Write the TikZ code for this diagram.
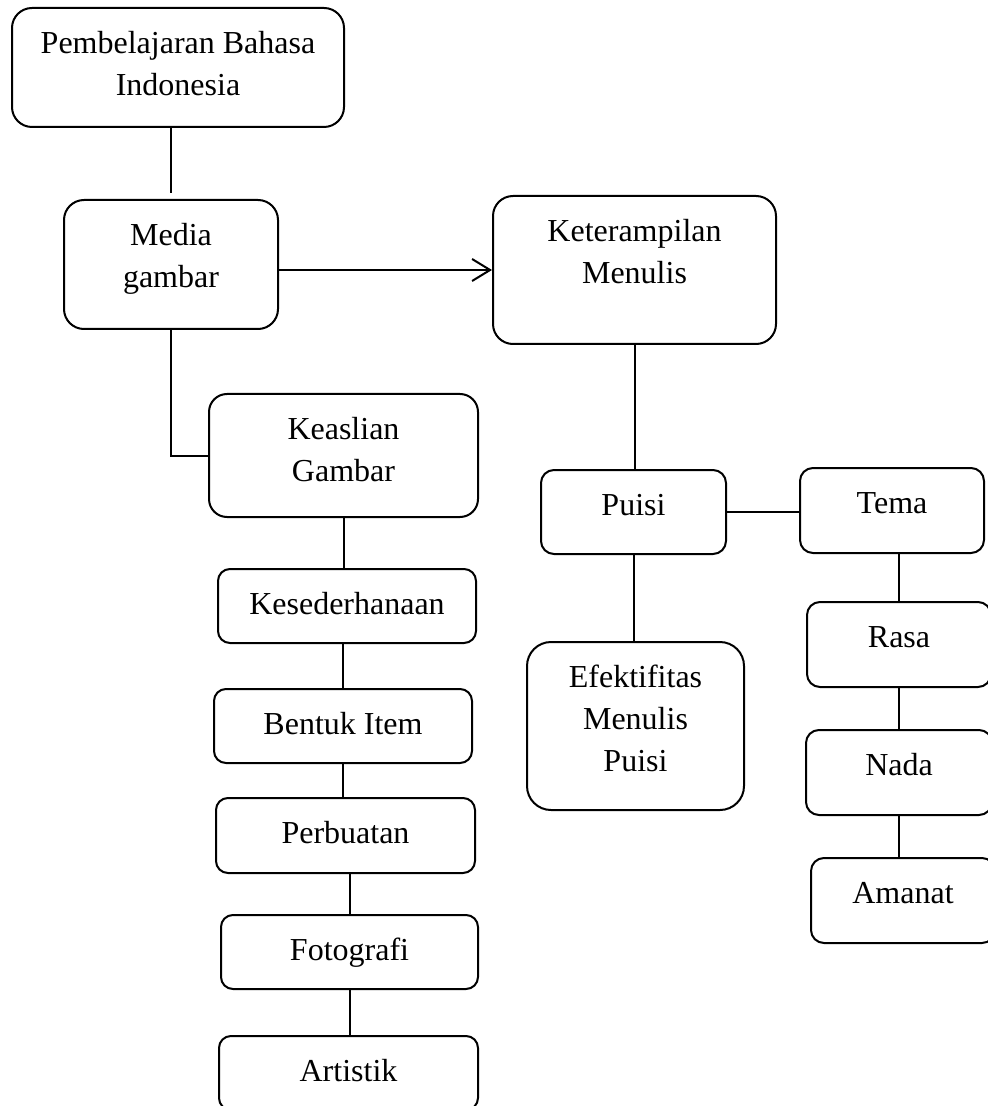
\documentclass[tikz,border=0pt]{standalone}
\usepackage{fontspec}
\setmainfont{Liberation Serif}
\usetikzlibrary{arrows.meta}
\newcommand{\isi}[3]{\parbox[t][#2][t]{#1}{\centering\vspace*{8pt}\strut#3}}

\begin{document}
\begin{tikzpicture}[x=0.5pt,y=-0.5pt,
  kotak/.style={draw,rounded corners=#1,inner sep=0pt,line width=1pt},
  kotak/.default=6pt,
  garis/.style={line width=1pt},
  font=\fontsize{16}{21}\selectfont]
\useasboundingbox (0,0) rectangle (988,1106);
\node[kotak=10pt] (pem) at (178,67.5) {\isi{166pt}{59.5pt}{Pembelajaran Bahasa\\Indonesia}};
\node[kotak=10pt] (med) at (171,264.5) {\isi{107pt}{64.5pt}{Media\\gambar}};
\node[kotak=10pt] (ket) at (634.5,270) {\isi{141.5pt}{74pt}{Keterampilan\\Menulis}};
\node[kotak=9pt] (kea) at (343.5,455.5) {\isi{134.5pt}{61.5pt}{Keaslian\\Gambar}};
\node[kotak=6.5pt] (pui) at (633.5,512) {\isi{92.5pt}{42pt}{Puisi}};
\node[kotak=6.5pt] (tem) at (892,510.5) {\isi{92pt}{42.5pt}{Tema}};
\node[kotak] (kes) at (347,606) {\isi{129pt}{37pt}{Kesederhanaan}};
\node[kotak=12pt] (efe) at (635.5,726) {\isi{108.5pt}{84pt}{Efektifitas\\Menulis\\Puisi}};
\node[kotak=6.5pt] (ras) at (899,644.5) {\isi{92pt}{42.5pt}{Rasa}};
\node[kotak] (ben) at (343,726) {\isi{129pt}{37pt}{Bentuk Item}};
\node[kotak=6.5pt] (nad) at (899,772.5) {\isi{93pt}{42.5pt}{Nada}};
\node[kotak] (per) at (345.5,835.5) {\isi{129.5pt}{37.5pt}{Perbuatan}};
\node[kotak=6.5pt] (ama) at (903,900.5) {\isi{92pt}{42.5pt}{Amanat}};
\node[kotak] (fot) at (349.5,952) {\isi{128.5pt}{37pt}{Fotografi}};
\node[kotak] (art) at (348.5,1073) {\isi{129.5pt}{37pt}{Artistik}};
\draw[garis,shorten >=3pt] (pem.south -| med.north) -- (med.north);
\draw[garis,-{Straight Barb[length=9pt,width=11pt]}] (ket.west -| med.east) -- (ket.west);
\draw[garis] (med.south) |- (kea.west);
\draw[garis] (ket.south) -- (ket.south |- pui.north);
\draw[garis] (pui.east) -- (pui.east -| tem.west);
\draw[garis] (pui.south) -- (pui.south |- efe.north);
\draw[garis] (kea.south) -- (kea.south |- kes.north);
\draw[garis] (ben.north |- kes.south) -- (ben.north);
\draw[garis] (ben.south) -- (ben.south |- per.north);
\draw[garis] (fot.north |- per.south) -- (fot.north);
\draw[garis] (fot.south) -- (fot.south |- art.north);
\draw[garis] (ras.north |- tem.south) -- (ras.north);
\draw[garis] (ras.south) -- (nad.north);
\draw[garis] (nad.south) -- (nad.south |- ama.north);
\end{tikzpicture}
\end{document}
